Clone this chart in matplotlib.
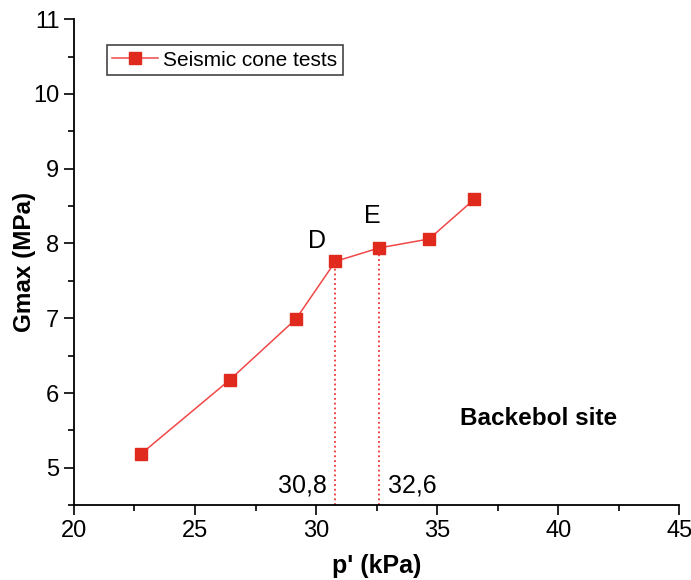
import matplotlib.pyplot as plt
from matplotlib.ticker import MultipleLocator

plt.rcParams['font.family'] = ['Liberation Sans', 'DejaVu Sans']

# seismic cone test results, Backebol site
p_eff = [22.75, 26.45, 29.17, 30.8, 32.6, 34.67, 36.53]   # p' (kPa)
g_max = [5.18, 6.18, 6.99, 7.76, 7.94, 8.06, 8.59]        # Gmax (MPa)

# marked points D and E
mark_names = ['D', 'E']
mark_idx = [3, 4]
mark_text = ['30,8', '32,6']

fig = plt.figure(figsize=(6.91, 5.8), dpi=100)
ax = fig.add_axes([0.107, 0.129, 0.876, 0.838])

ax.plot(p_eff, g_max, '-', color='#f04848', lw=1.1,
        marker='s', markersize=8.5, markerfacecolor='#e02a1e',
        markeredgecolor='#e02a1e', label='Seismic cone tests')

for i in mark_idx:
    ax.plot([p_eff[i], p_eff[i]], [4.5, g_max[i]], ':', color='#f03030', lw=1.3)

ax.text(30.42, 7.87, mark_names[0], fontsize=18, ha='right', va='bottom')
ax.text(32.31, 8.21, mark_names[1], fontsize=18, ha='center', va='bottom')
ax.text(30.45, 4.6, mark_text[0], fontsize=18, ha='right', va='bottom')
ax.text(32.98, 4.6, mark_text[1], fontsize=18, ha='left', va='bottom')

ax.text(39.17, 5.66, 'Backebol site', fontsize=17.5, fontweight='bold', ha='center', va='center')

ax.set_xlim(20, 45)
ax.set_ylim(4.5, 11)
ax.xaxis.set_major_locator(MultipleLocator(5))
ax.xaxis.set_minor_locator(MultipleLocator(2.5))
ax.yaxis.set_major_locator(MultipleLocator(1))
ax.yaxis.set_minor_locator(MultipleLocator(0.5))
ax.tick_params(which='major', direction='out', length=7, width=1.2, labelsize=17)
ax.tick_params(which='minor', direction='out', length=4, width=1.2)

ax.spines['top'].set_visible(False)
ax.spines['right'].set_visible(False)
ax.spines['left'].set_linewidth(1.3)
ax.spines['bottom'].set_linewidth(1.3)

ax.set_xlabel("p' (kPa)", fontsize=18, fontweight='bold', labelpad=9)
ax.set_ylabel('Gmax (MPa)', fontsize=17.5, fontweight='bold')
ax.yaxis.set_label_coords(-0.062, 0.5)

leg = ax.legend(loc='upper left', bbox_to_anchor=(0.055, 0.946), borderaxespad=0,
                fontsize=15, fancybox=False, edgecolor='#444444', framealpha=1,
                handlelength=2.2, borderpad=0.25, handletextpad=0.25)
leg.get_frame().set_linewidth(1.2)

fig.savefig('out.png', dpi=100)
